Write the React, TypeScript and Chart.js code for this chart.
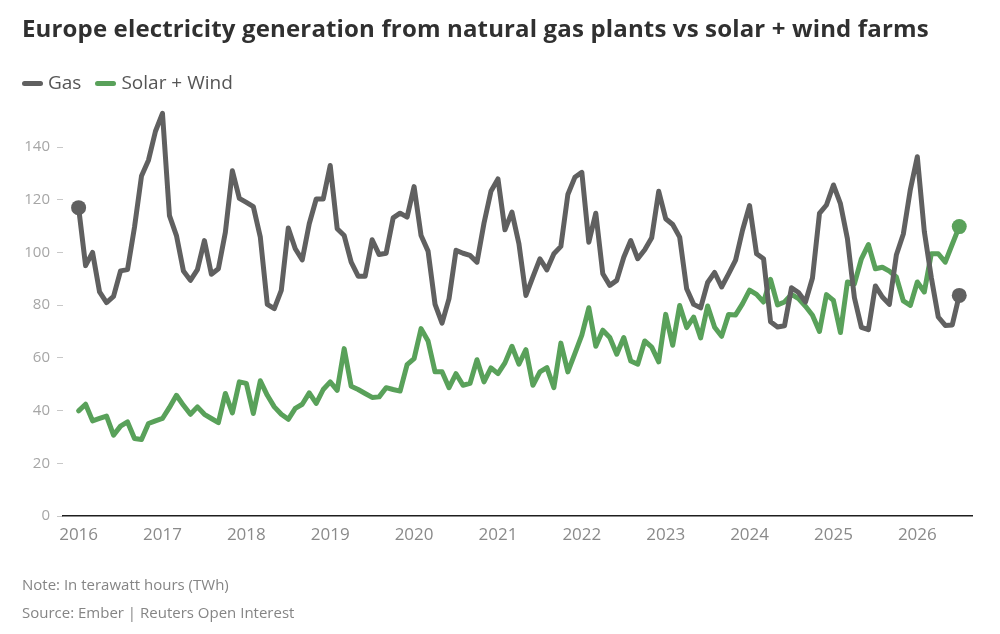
import React, { useEffect, useRef } from "react";
import { Chart, registerables } from "chart.js";

Chart.register(...registerables);

const TITLE = "Europe electricity generation from natural gas plants vs solar + wind farms";
const NOTE = "Note: In terawatt hours (TWh)";
const SOURCE = "Source: Ember | Reuters Open Interest";

const seriesNames = ["Gas", "Solar + Wind"];
const seriesColors = ["#606060", "#59a15a"];

const START_YEAR = 2016;

// Monthly values, TWh, from Jan 2016
const gasValues = [
  117, 95, 100, 85, 81, 83.3, 93, 93.5, 109.6, 129, 135, 146,
  152.8, 114, 106.4, 93, 89.4, 93.5, 104.5, 91.7, 93.8, 107.7, 131, 120.5,
  119, 117.4, 105.8, 80.3, 78.7, 85.6, 109.3, 101.4, 97.2, 110.9, 120.3, 120.3,
  133, 109, 106.4, 96.3, 91, 91, 104.8, 99.2, 99.7, 113.1, 114.9, 113.4,
  125, 106.4, 100.5, 80.3, 73.2, 82.5, 100.8, 99.7, 98.9, 96.3, 111.1, 123.2,
  127.9, 108.6, 115.3, 103.3, 83.7, 90.7, 97.6, 93.4, 99.5, 102.3, 122, 128.5,
  130.4, 103.9, 114.9, 91.9, 87.5, 89.4, 98.2, 104.5, 97.6, 101, 105.6, 123.2,
  112.8, 110.6, 105.8, 86.2, 80.3, 79, 88.6, 92.4, 86.9, 91.9, 97.1, 108.5,
  117.8, 99.5, 97.6, 73.7, 71.7, 72.2, 86.6, 84.8, 81.2, 90.3, 114.8, 118,
  125.6, 118.5, 105.2, 82.8, 71.6, 70.7, 87.3, 83.1, 80.3, 99, 107, 123.8,
  136.3, 108, 90.5, 75.5, 72.3, 72.5, 83.7,
];

const solarWindValues = [
  39.9, 42.4, 36.1, 37, 37.9, 30.7, 34.1, 35.7, 29.4, 29, 35.1, 36.1,
  37, 41.2, 45.8, 42, 38.6, 41.4, 38.6, 37, 35.4, 46.5, 39.1, 50.9,
  50.3, 38.9, 51.3, 45.8, 41.4, 38.6, 36.7, 40.8, 42.4, 46.7, 42.7, 48,
  50.9, 47.7, 63.5, 49.2, 48, 46.5, 45, 45.2, 48.7, 48, 47.4, 57.4,
  59.7, 71.1, 66.4, 54.7, 54.7, 48.7, 54, 49.6, 50.3, 59.3, 50.9, 56.2,
  54, 58.1, 64.4, 57.6, 63.1, 49.6, 54.7, 56.3, 48.7, 65.6, 54.7, 61.6,
  68.6, 79, 64.4, 70.5, 67.7, 61.4, 67.7, 58.8, 57.6, 66.4, 64.1, 58.5,
  76.5, 64.8, 79.9, 71.5, 75.5, 67.6, 79.7, 71.6, 68.2, 76.5, 76.3, 80.6,
  85.7, 84.1, 81.2, 89.8, 80.1, 81.2, 84.1, 82.5, 79.6, 76.2, 70, 84,
  81.8, 69.6, 88.8, 88.1, 97.6, 103, 93.8, 94.4, 92.9, 90.7, 81.6, 79.9,
  88.8, 85, 99.5, 99.5, 96.3, 103.1, 109.8,
];

const yTickValues = [0, 20, 40, 60, 80, 100, 120, 140];
const xTickYears = [2016, 2017, 2018, 2019, 2020, 2021, 2022, 2023, 2024, 2025, 2026];

// month positions as decimal years (Jan 2016 = 2016.0)
const monthPositions = gasValues.map((_, i) => START_YEAR + i / 12);

const FONT = '"Open Sans", "Noto Sans", sans-serif';

function App() {
  const canvasRef = useRef<HTMLCanvasElement | null>(null);

  useEffect(() => {
    const canvas = canvasRef.current;
    if (!canvas) return;
    const lastGas = gasValues.length - 1;
    const lastSw = solarWindValues.length - 1;
    const chart = new Chart(canvas, {
      type: "line",
      data: {
        datasets: [
          {
            label: seriesNames[0],
            data: gasValues.map((v, i) => ({ x: monthPositions[i], y: v })),
            borderColor: seriesColors[0],
            backgroundColor: seriesColors[0],
            borderWidth: 5,
            borderJoinStyle: "round",
            borderCapStyle: "round",
            tension: 0,
            pointRadius: (ctx: any) => (ctx.dataIndex === 0 || ctx.dataIndex === lastGas ? 7.5 : 0),
            pointBorderWidth: 0,
            pointHoverRadius: 0,
          },
          {
            label: seriesNames[1],
            data: solarWindValues.map((v, i) => ({ x: monthPositions[i], y: v })),
            borderColor: seriesColors[1],
            backgroundColor: seriesColors[1],
            borderWidth: 5,
            borderJoinStyle: "round",
            borderCapStyle: "round",
            tension: 0,
            pointRadius: (ctx: any) => (ctx.dataIndex === lastSw ? 7.5 : 0),
            pointBorderWidth: 0,
            pointHoverRadius: 0,
          },
        ],
      },
      options: {
        animation: false,
        responsive: false,
        maintainAspectRatio: false,
        events: [],
        layout: { padding: { left: 0, right: 28, top: 107.5, bottom: 78 } },
        plugins: {
          legend: { display: false },
          tooltip: { enabled: false },
          title: { display: false },
        },
        scales: {
          x: {
            type: "linear",
            min: 2015.814,
            max: 2026.652,
            grid: { display: false, drawTicks: false },
            border: { display: true, color: "#1e1e1e", width: 1.6 },
            ticks: {
              color: "#8a8a8a",
              font: { family: FONT, size: 17 },
              padding: 9,
              autoSkip: false,
              maxRotation: 0,
              callback: (v: any) => String(v),
            },
            afterBuildTicks: (s: any) => {
              s.ticks = xTickYears.map((v) => ({ value: v }));
            },
            afterFit: (s: any) => {
              s.height = 40;
            },
          },
          y: {
            type: "linear",
            min: 0,
            max: 155,
            grid: { display: true, drawOnChartArea: false, drawTicks: true, tickLength: 6, color: "#c8c8c8", lineWidth: 1 },
            border: { display: false },
            ticks: {
              color: "#a6a6a6",
              font: { family: FONT, size: 15 },
              padding: 7,
            },
            afterBuildTicks: (s: any) => {
              s.ticks = yTickValues.map((v) => ({ value: v }));
            },
            afterFit: (s: any) => {
              s.width = 63;
            },
          },
        },
      },
    } as any);
    return () => chart.destroy();
  }, []);

  return (
    <div
      style={{
        position: "absolute",
        left: 0,
        top: 0,
        width: 1000,
        height: 634,
        background: "#ffffff",
        fontFamily: FONT,
        overflow: "hidden",
      }}
    >
      <canvas
        ref={canvasRef}
        width={1000}
        height={634}
        style={{ position: "absolute", left: 0, top: 0, width: 1000, height: 634 }}
      />
      <div
        style={{
          position: "absolute",
          left: 22,
          top: 16.2,
          fontSize: 24,
          lineHeight: "24px",
          fontWeight: 700,
          letterSpacing: "0.15px",
          color: "#303030",
          whiteSpace: "nowrap",
        }}
      >
        {TITLE}
      </div>
      <div
        style={{
          position: "absolute",
          left: 22,
          top: 73,
          display: "flex",
          alignItems: "center",
          fontSize: 19,
          lineHeight: "19px",
          color: "#555555",
          whiteSpace: "nowrap",
        }}
      >
        {seriesNames.map((name, i) => (
          <div key={name} style={{ display: "flex", alignItems: "center", marginRight: 14 }}>
            <span
              style={{
                display: "inline-block",
                width: 21,
                height: 5,
                borderRadius: 2.5,
                background: seriesColors[i],
                marginRight: 5,
                position: "relative",
                top: 1,
              }}
            />
            <span>{name}</span>
          </div>
        ))}
      </div>
      <div
        style={{
          position: "absolute",
          left: 22,
          top: 576.7,
          fontSize: 15,
          lineHeight: "15px",
          color: "#858585",
          whiteSpace: "nowrap",
        }}
      >
        {NOTE}
      </div>
      <div
        style={{
          position: "absolute",
          left: 22,
          top: 604.7,
          fontSize: 15,
          lineHeight: "15px",
          color: "#858585",
          whiteSpace: "nowrap",
        }}
      >
        {SOURCE}
      </div>
    </div>
  );
}

export default App;
